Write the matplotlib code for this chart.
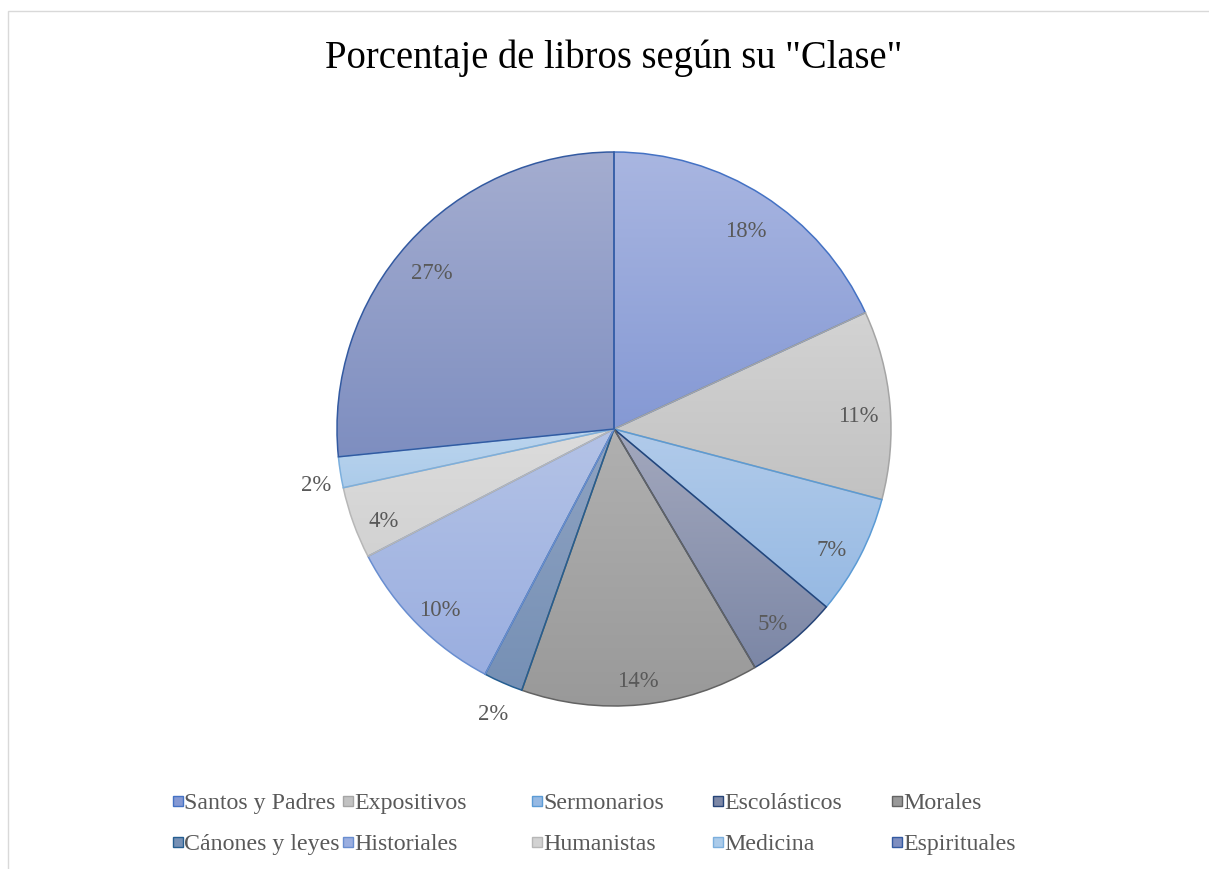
import numpy as np
import matplotlib
matplotlib.use("Agg")
import matplotlib.pyplot as plt
from matplotlib.patches import Rectangle
from matplotlib.colors import LinearSegmentedColormap
from matplotlib.transforms import offset_copy

categories = ["Santos y Padres", "Expositivos", "Sermonarios", "Escolásticos", "Morales",
              "Cánones y leyes", "Historiales", "Humanistas", "Medicina", "Espirituales"]
values = [18.1, 11.0, 7.0, 5.4, 13.9, 2.3, 9.7, 4.2, 1.8, 26.6]
title = 'Porcentaje de libros según su "Clase"'

top_colors = ["#A9B6E1", "#D3D3D3", "#B1CBEA", "#A3A8BD", "#B0B0B0",
              "#8FA3C2", "#B4C3E6", "#DCDCDC", "#BCD5EE", "#A4ADD0"]
bot_colors = ["#8599D4", "#C2C2C2", "#96B9E3", "#7C87A6", "#999999",
              "#7690B5", "#9AAEE0", "#D2D2D2", "#ABCBEA", "#7E8EC0"]
edge_colors = ["#4472C4", "#A5A5A5", "#5B9BD5", "#264478", "#636363",
               "#255E91", "#698ED0", "#B7B7B7", "#7CAFDD", "#335AA1"]

plt.rcParams['font.family'] = ['Liberation Serif', 'DejaVu Serif']
text_color = "#595959"

W, H = 1209, 870
fig = plt.figure(figsize=(W / 100, H / 100), dpi=100)
fig.patch.set_facecolor("white")

# chart border (light grey)
fig.patches.append(Rectangle((8 / W, -0.1), 1.1, (870 - 12) / H + 0.1,
                             transform=fig.transFigure, fill=False,
                             edgecolor="#D9D9D9", linewidth=1.0))

fig.text(614 / W, 1 - 58 / H, title, ha="center", va="center",
         fontsize=27.8, color="black")

cx, cy, R = 614, 430, 277
ax = fig.add_axes([(cx - R) / W, (H - cy - R) / H, 2 * R / W, 2 * R / H])
wedges, _ = ax.pie(values, startangle=90, counterclock=False, radius=1,
                   colors=["none"] * len(values),
                   wedgeprops=dict(linewidth=1.1))
ax.set_xlim(-1, 1)
ax.set_ylim(-1, 1)
ax.set_aspect("equal")
ax.axis("off")

label_tr = offset_copy(ax.transData, fig=fig, x=0, y=-8, units="dots")

total = sum(values)
for i, w in enumerate(wedges):
    w.set_edgecolor(edge_colors[i])
    w.set_zorder(3)
    verts = w.get_patch_transform().transform(w.get_path().vertices)
    x0, x1 = verts[:, 0].min(), verts[:, 0].max()
    y0, y1 = verts[:, 1].min(), verts[:, 1].max()
    cmap = LinearSegmentedColormap.from_list("g%d" % i, [bot_colors[i], top_colors[i]])
    grad = np.linspace(0, 1, 256).reshape(-1, 1)
    im = ax.imshow(grad, cmap=cmap, origin="lower", extent=(x0, x1, y0, y1),
                   aspect="auto", zorder=2, interpolation="bilinear")
    im.set_clip_path(w)
    # label
    ang = np.deg2rad((w.theta1 + w.theta2) / 2)
    frac = values[i] / total
    rr = 1.09 if frac < 0.03 else 0.885
    ax.text(rr * np.cos(ang), rr * np.sin(ang), "%.0f%%" % (values[i]),
            ha="center", va="center", fontsize=16.4, color=text_color, zorder=5,
            transform=label_tr)

ax.set_xlim(-1, 1)
ax.set_ylim(-1, 1)

# manual legend
col_x = [173, 343, 532, 713, 892]
row_y = [802, 843]
sq = 10
for i, name in enumerate(categories):
    r, c = divmod(i, 5)
    x = col_x[c]
    y = row_y[r]
    fig.patches.append(Rectangle((x / W, (H - y - sq / 2) / H), sq / W, sq / H,
                                 transform=fig.transFigure,
                                 facecolor=bot_colors[i], edgecolor=edge_colors[i],
                                 linewidth=1.0))
    fig.text((x + sq + 1) / W, 1 - (y + 2) / H, name, ha="left", va="center",
             fontsize=17.2, color=text_color)

fig.savefig("out.png", dpi=100)
